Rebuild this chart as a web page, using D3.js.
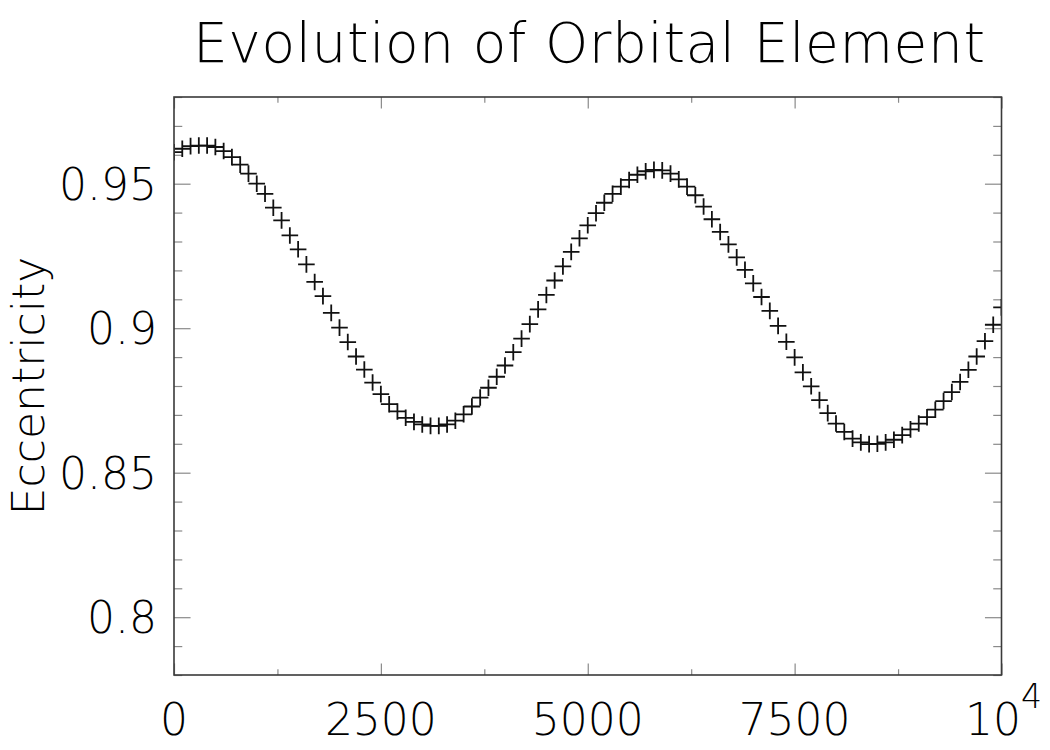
<html lang="en">
<head>
    <meta charset="UTF-8"/>
    <title>Evolution of Orbital Element</title>
    <script src="https://d3js.org/d3.v7.min.js"></script>
    <style>
        body { margin: 0; background: #fff; }
        text { font-family: "DejaVu Sans", sans-serif; font-weight: 200; fill: #000; }
    </style>
</head>
<body>
    <script>
        // time steps (x) and eccentricity
        var times = [0,100,200,300,400,500,600,700,800,900,
                     1000,1100,1200,1300,1400,1500,1600,1700,1800,1900,
                     2000,2100,2200,2300,2400,2500,2600,2700,2800,2900,
                     3000,3100,3200,3300,3400,3500,3600,3700,3800,3900,
                     4000,4100,4200,4300,4400,4500,4600,4700,4800,4900,
                     5000,5100,5200,5300,5400,5500,5600,5700,5800,5900,
                     6000,6100,6200,6300,6400,6500,6600,6700,6800,6900,
                     7000,7100,7200,7300,7400,7500,7600,7700,7800,7900,
                     8000,8100,8200,8300,8400,8500,8600,8700,8800,8900,
                     9000,9100,9200,9300,9400,9500,9600,9700,9800,9900,10000];

        var ecc = [0.9609,0.9621,0.9630,0.9632,0.9632,0.9627,0.9613,0.9592,0.9566,0.9535,
                   0.9500,0.9465,0.9417,0.9373,0.9321,0.9273,0.9221,0.9160,0.9111,0.9053,
                   0.9002,0.8952,0.8902,0.8857,0.8812,0.8772,0.8737,0.8712,0.8690,0.8676,
                   0.8667,0.8662,0.8662,0.8667,0.8680,0.8702,0.8729,0.8760,0.8794,0.8832,
                   0.8871,0.8917,0.8964,0.9014,0.9065,0.9115,0.9165,0.9214,0.9264,0.9311,
                   0.9356,0.9398,0.9434,0.9465,0.9490,0.9513,0.9531,0.9543,0.9548,0.9546,
                   0.9535,0.9515,0.9490,0.9460,0.9421,0.9377,0.9333,0.9290,0.9245,0.9202,
                   0.9155,0.9108,0.9060,0.9008,0.8953,0.8899,0.8847,0.8799,0.8751,0.8706,
                   0.8670,0.8641,0.8618,0.8605,0.8599,0.8600,0.8605,0.8614,0.8630,0.8650,
                   0.8670,0.8692,0.8718,0.8748,0.8779,0.8814,0.8856,0.8902,0.8955,0.9012,0.9072];

        var xMajor = [0, 2500, 5000, 7500, 10000];
        var xMinor = [1250, 3750, 6250, 8750];
        var xLabels = ["0", "2500", "5000", "7500", "10"];
        var yMajor = [0.80, 0.85, 0.90, 0.95];
        var yMinor = [0.78, 0.79, 0.81, 0.82, 0.83, 0.84, 0.86, 0.87, 0.88, 0.89,
                      0.91, 0.92, 0.93, 0.94, 0.96, 0.97, 0.98];
        var yLabels = ["0.8", "0.85", "0.9", "0.95"];

        var w = 1050, h = 750;
        var pLeft = 174, pRight = 1001.5, pTop = 97, pBottom = 675;

        var xScale = d3.scaleLinear().domain([0, 10000]).range([pLeft, pRight]);
        var yScale = d3.scaleLinear().domain([0.78, 0.98]).range([pBottom, pTop]);

        var svg = d3.select("body").append("svg")
                    .attr("width", w)
                    .attr("height", h);

        svg.append("defs").append("clipPath")
            .attr("id", "plotclip")
            .append("rect")
            .attr("x", pLeft).attr("y", pTop)
            .attr("width", pRight - pLeft).attr("height", pBottom - pTop);

        // tick marks, pointing inward on all four sides
        var xTickLen = 0.02 * (pBottom - pTop);
        var yTickLen = 0.02 * (pRight - pLeft);

        function tickGroup(axis, tx, ty) {
            var g = svg.append("g")
                .attr("transform", "translate(" + tx + "," + ty + ")")
                .call(axis);
            g.select(".domain").remove();
            g.selectAll("line").attr("stroke", "#8a8a8a").attr("stroke-width", 1.2);
            g.selectAll("text").remove();
            return g;
        }

        tickGroup(d3.axisBottom(xScale).tickValues(xMajor).tickSize(-xTickLen), 0, pBottom);
        tickGroup(d3.axisBottom(xScale).tickValues(xMinor).tickSize(-xTickLen / 2), 0, pBottom);
        tickGroup(d3.axisTop(xScale).tickValues(xMajor).tickSize(-xTickLen), 0, pTop);
        tickGroup(d3.axisTop(xScale).tickValues(xMinor).tickSize(-xTickLen / 2), 0, pTop);
        tickGroup(d3.axisLeft(yScale).tickValues(yMajor).tickSize(-yTickLen), pLeft, 0);
        tickGroup(d3.axisLeft(yScale).tickValues(yMinor).tickSize(-yTickLen / 2), pLeft, 0);
        tickGroup(d3.axisRight(yScale).tickValues(yMajor).tickSize(-yTickLen), pRight, 0);
        tickGroup(d3.axisRight(yScale).tickValues(yMinor).tickSize(-yTickLen / 2), pRight, 0);

        // plus markers
        var arm = 8.3;
        svg.append("g").attr("clip-path", "url(#plotclip)")
            .selectAll("path")
            .data(times)
            .enter()
            .append("path")
            .attr("d", function(d, i) {
                var cx = xScale(d), cy = yScale(ecc[i]);
                return "M" + (cx - arm) + "," + cy + "H" + (cx + arm) +
                       "M" + cx + "," + (cy - arm) + "V" + (cy + arm);
            })
            .attr("fill", "none")
            .attr("stroke", "#111")
            .attr("stroke-width", 1.8);

        // frame
        svg.append("rect")
            .attr("x", pLeft).attr("y", pTop)
            .attr("width", pRight - pLeft).attr("height", pBottom - pTop)
            .attr("fill", "none")
            .attr("stroke", "#3a3a3a")
            .attr("stroke-width", 1.6);

        // x labels
        var xl = svg.selectAll(".xlab")
            .data(xMajor)
            .enter()
            .append("text")
            .attr("class", "xlab")
            .attr("x", function(d) { return xScale(d); })
            .attr("y", 735)
            .attr("text-anchor", "middle")
            .style("font-size", "44px")
            .text(function(d, i) { return xLabels[i]; });

        xl.filter(function(d, i) { return i === xLabels.length - 1; })
            .attr("x", xScale(10000) + 2)
            .append("tspan")
            .attr("dy", -27)
            .style("font-size", "33px")
            .text("4");

        // y labels
        svg.selectAll(".ylab")
            .data(yMajor)
            .enter()
            .append("text")
            .attr("class", "ylab")
            .attr("x", 157)
            .attr("y", function(d) { return yScale(d) + 16; })
            .attr("text-anchor", "end")
            .style("font-size", "44px")
            .text(function(d, i) { return yLabels[i]; });

        // title
        svg.append("text")
            .attr("x", 589)
            .attr("y", 62)
            .attr("text-anchor", "middle")
            .attr("textLength", 792)
            .attr("lengthAdjust", "spacing")
            .style("font-size", "55px")
            .text("Evolution of Orbital Element");

        // y axis title
        svg.append("text")
            .attr("transform", "translate(44," + 386 + ") rotate(-90)")
            .attr("text-anchor", "middle")
            .style("font-size", "44px")
            .text("Eccentricity");
    </script>
</body>
</html>
